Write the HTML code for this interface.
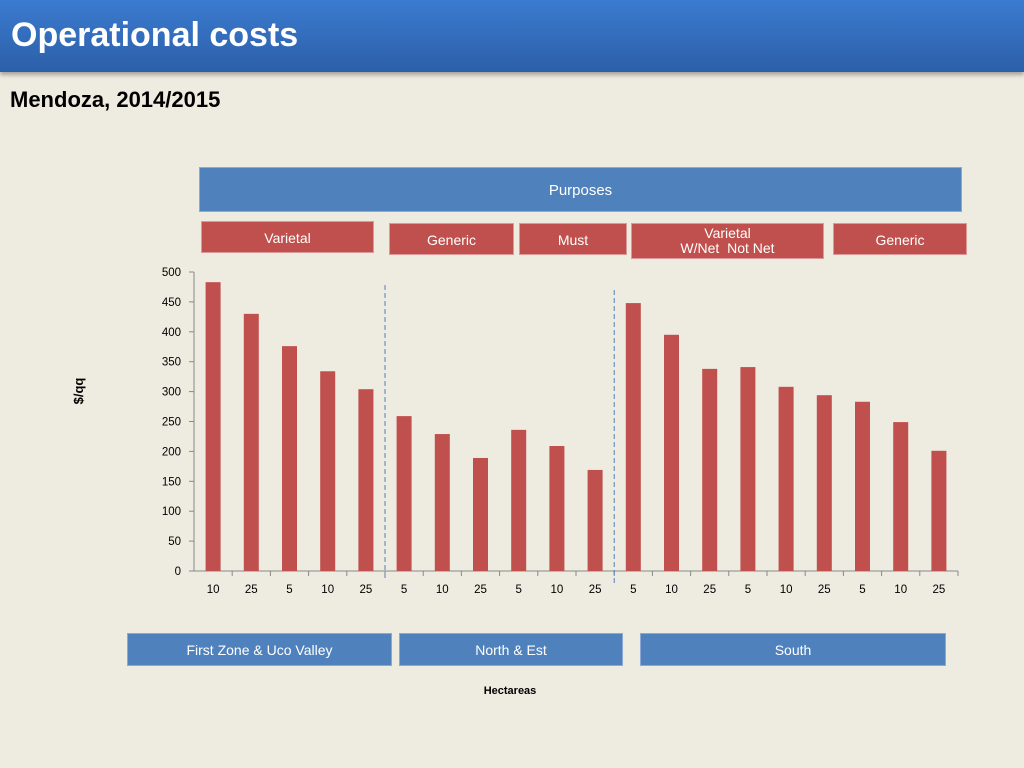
<!DOCTYPE html>
<html><head><meta charset="utf-8"><style>
body{margin:0;width:1024px;height:768px;background:#eeebe0;font-family:"Liberation Sans",sans-serif;position:relative;overflow:hidden}
.hdr{position:absolute;left:0;top:0;width:1024px;height:72px;background:linear-gradient(#3b7bd0,#2c5fa8);box-shadow:0 3px 4px rgba(0,0,0,.3)}
.hdr span{position:absolute;left:11px;top:16px;color:#fff;font-size:34px;font-weight:bold}
.box{position:absolute;color:#fff;font-size:14px;text-align:center;box-sizing:border-box}
.red{background:#c0504d;border:1px solid #d99}
.blue{background:#4f81bd;border:1px solid #8aa9d6}
</style></head><body>
<div class="hdr"><span>Operational costs</span></div>
<div style="position:absolute;left:10px;top:87px;font-size:22px;font-weight:bold">Mendoza, 2014/2015</div>
<div class="box blue" style="left:199px;top:167px;width:763px;height:45px;line-height:45px;font-size:15px">Purposes</div>
<div class="box red" style="left:201px;top:221px;width:173px;height:32px;line-height:32px">Varietal</div>
<div class="box red" style="left:389px;top:223px;width:125px;height:32px;line-height:32px">Generic</div>
<div class="box red" style="left:519px;top:223px;width:108px;height:32px;line-height:32px">Must</div>
<div class="box red" style="left:631px;top:223px;width:193px;height:36px;line-height:15px;padding-top:2px">Varietal<br>W/Net &nbsp;Not Net</div>
<div class="box red" style="left:833px;top:223px;width:134px;height:32px;line-height:32px">Generic</div>
<div class="box blue" style="left:127px;top:633px;width:265px;height:33px;line-height:33px">First Zone &amp; Uco Valley</div>
<div class="box blue" style="left:399px;top:633px;width:224px;height:33px;line-height:33px">North &amp; Est</div>
<div class="box blue" style="left:640px;top:633px;width:306px;height:33px;line-height:33px">South</div>
<svg id="chart" width="1024" height="768" style="position:absolute;left:0;top:0"></svg>
<script>
const categories=["10","25","5","10","25","5","10","25","5","10","25","5","10","25","5","10","25","5","10","25"];
const values=[483,430,376,334,304,259,229,189,236,209,169,448,395,338,341,308,294,283,249,201];
const yTicks=[0,50,100,150,200,250,300,350,400,450,500];
const dividers=[5,11];
const svg=document.getElementById('chart');const NS='http://www.w3.org/2000/svg';
const x0=194,x1=958,y0=571,y1=272,yMax=500;
const bw=(x1-x0)/categories.length;
const y=v=>y0-(v/yMax)*(y0-y1);
const xc=i=>x0+bw*(i+0.5);
function mk(t,a){const e=document.createElementNS(NS,t);for(const k in a)e.setAttribute(k,a[k]);svg.appendChild(e);return e;}
let ax=mk('line',{x1:x0,y1:y1,x2:x0,y2:y0,stroke:'#888'});


let xa=mk('line',{x1:x0,y1:y0,x2:x1,y2:y0,stroke:'#888'});


yTicks.forEach(t=>{mk('line',{x1:x0-5,x2:x0,y1:y(t),y2:y(t),stroke:'#888'});
const tx=mk('text',{x:x0-13,y:y(t)+4,'text-anchor':'end','font-size':11.5,fill:'#000'});tx.textContent=t;

});
categories.forEach((c,i)=>{mk('line',{x1:x0+bw*(i+1),x2:x0+bw*(i+1),y1:y0,y2:y0+5,stroke:'#888'});
const r=mk('rect',{x:xc(i)-7.5,y:y(values[i]),width:15,height:y0-y(values[i]),fill:'#c0504d'});


const t=mk('text',{x:xc(i),y:593,'text-anchor':'middle','font-size':11.5});t.textContent=c;

});
const divTop=[285,290];
dividers.forEach((d,k)=>{const l=mk('line',{x1:x0+bw*d,x2:x0+bw*d,y1:divTop[k],y2:divTop[k]+295,stroke:'#4f81bd','stroke-dasharray':'5,3'});

});
const yt=mk('text',{x:0,y:0,transform:'translate(83,391) rotate(-90)','text-anchor':'middle','font-size':13,'font-weight':'bold'});yt.textContent='$/qq';


const xt=mk('text',{x:510,y:694,'text-anchor':'middle','font-size':11,'font-weight':'bold'});xt.textContent='Hectareas';


</script>
</body></html>
